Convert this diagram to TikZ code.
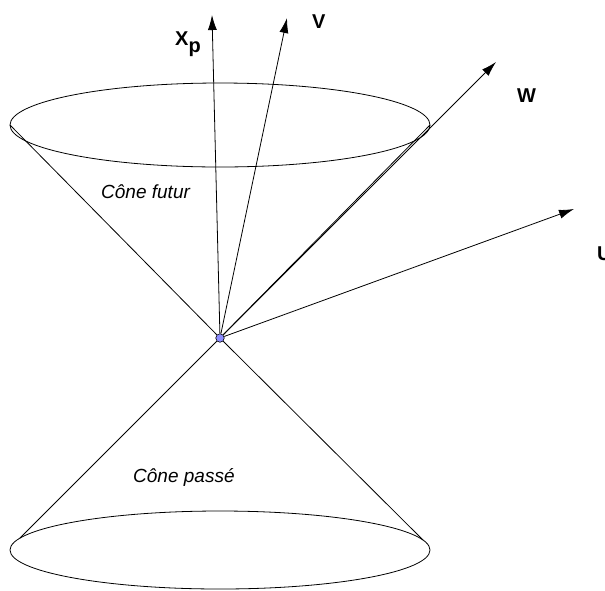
\documentclass[tikz,border=0pt]{standalone}
\usepackage{fontspec}
\setmainfont{Liberation Sans}
\usetikzlibrary{arrows.meta}

\begin{document}
\begin{tikzpicture}[
  x=1pt, y=-1pt,
  lbl/.style ={font=\fontsize{20}{23}\selectfont\bfseries, inner sep=0pt, anchor=base west},
  cone/.style={font=\fontsize{19}{22}\selectfont\itshape, inner sep=0pt, anchor=base west},
  gen/.style ={line width=0.8pt},
  vec/.style ={-{Latex[length=15pt,width=9pt]}, line width=0.8pt},
  evt/.style ={circle, draw, fill=blue!45!white, inner sep=0pt,
               minimum size=8.5pt, line width=0.6pt}
]
\useasboundingbox (0,0) rectangle (605,590);

% event at the apex
\node[evt] (o) at (220,338) {};

% cone rims
\coordinate (ul) at (10,125);
\coordinate (ur) at (430,125);
\coordinate (ll) at (20,538);
\coordinate (lr) at (423,540);
\draw[gen] (220,125) ellipse [x radius=210pt, y radius=42pt];
\draw[gen] (220,550) ellipse [x radius=210pt, y radius=39pt];

% generators
\draw[gen] (ul) -- (o);
\draw[gen] (ur) -- (o);
\draw[gen] (ll) -- (o);
\draw[gen] (lr) -- (o);

% vectors
\coordinate (xp) at (212,15);
\coordinate (v)  at (287,18);
\coordinate (w)  at (496,62);
\coordinate (u)  at (574,209);
\draw[vec] (o) -- (xp);
\draw[vec] (o) -- (v);
\draw[vec] (o) -- (w);
\draw[vec] (o) -- (u);

% labels
\node[lbl] (lxp) at (175,45)  {X\raisebox{-7pt}{p}};
\node[lbl] (lv)  at (312,28)  {V};
\node[lbl] (lw)  at (517,102) {W};
\node[lbl] (lu)  at (597,260) {U};

\node[cone] (fut) at (101,198) {Cône futur};
\node[cone] (pas) at (133,482) {Cône passé};

\end{tikzpicture}
\end{document}
